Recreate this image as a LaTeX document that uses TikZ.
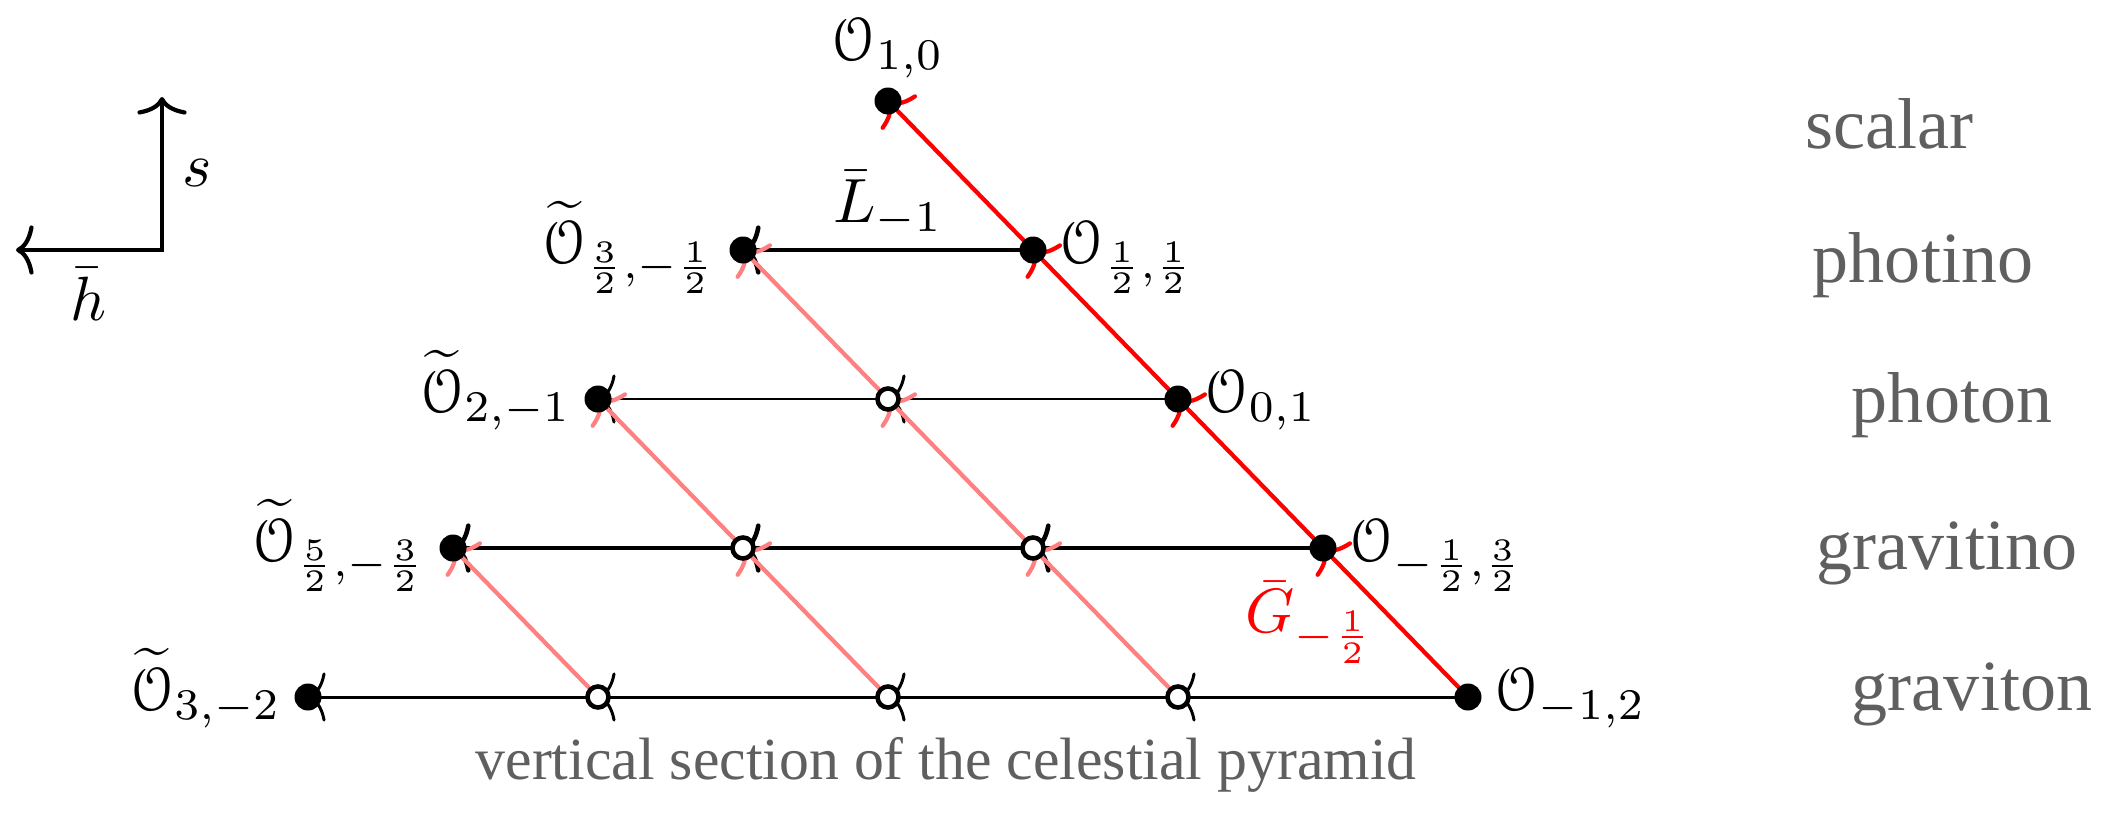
\documentclass[tikz,border=0pt]{standalone}
\usepackage{amsmath}
\usepackage{amssymb}
\usepackage[mathcal]{eucal}
\usepackage{xcolor}
\usepackage{fontspec}
\usepackage{tikz}
\usetikzlibrary{positioning, arrows.meta, backgrounds}

\newfontfamily\wordfont{Liberation Serif}
\definecolor{wordgray}{RGB}{95,95,95}
\definecolor{fermpink}{RGB}{255,128,128}

\begin{document}
\begin{tikzpicture}[
    >={To[length=5pt, width=14pt]},
    every node/.style={font=\normalsize},
    dotfull/.style={circle, fill=black, inner sep=0pt, minimum size=0.27cm},
    dothollow/.style={circle, draw=black, fill=white, line width=1.3pt, inner sep=0pt, minimum size=0.21cm},
    oplab/.style={inner sep=1pt, scale=1.78, transform shape},
    boson/.style={->, line width=0.85pt},
    fermion/.style={->, line width=1.3pt},
    gline/.style={->, red, line width=1.2pt},
    pinkline/.style={->, fermpink, line width=1.2pt},
    axisline/.style={<->, line width=1.2pt},
    word/.style={font=\wordfont\fontsize{20.5}{24}\selectfont, text=wordgray, inner sep=0pt},
    sectiontext/.style={font=\wordfont\fontsize{17}{20}\selectfont, text=wordgray, inner sep=0pt},
]
\useasboundingbox (0,0) rectangle (21.04,8.16);

% ---- Axes ----
\coordinate (corner) at (1.62,5.66);
\coordinate (stip) at (1.62,7.19);
\coordinate (htip) at (0.16,5.66);
\draw[axisline] (stip) -- node[oplab, right=0.1cm] (slab) {$s$} (corner) -- node[oplab, below=0.08cm] (hlab) {$\bar h$} (htip);

% ---- Operators ----
\node[dotfull] (sc) at (8.88,7.15) {};
\node[dotfull] (pn1) at (7.43,5.66) {};
\node[dotfull] (pn2) at (10.33,5.66) {};
\node[dotfull] (ph1) at (5.98,4.17) {};
\node[dothollow] (ph2) at (8.88,4.17) {};
\node[dotfull] (ph3) at (11.78,4.17) {};
\node[dotfull] (gi1) at (4.53,2.68) {};
\node[dothollow] (gi2) at (7.43,2.68) {};
\node[dothollow] (gi3) at (10.33,2.68) {};
\node[dotfull] (gi4) at (13.23,2.68) {};
\node[dotfull] (gt1) at (3.08,1.19) {};
\node[dothollow] (gt2) at (5.98,1.19) {};
\node[dothollow] (gt3) at (8.88,1.19) {};
\node[dothollow] (gt4) at (11.78,1.19) {};
\node[dotfull] (gt5) at (14.68,1.19) {};

% ---- Operator labels ----
\node[oplab, above=0.01cm of sc] (lsc) {$\mathcal{O}_{1,0}$};
\node[oplab, left=0.05cm of pn1, anchor=mid east] (lpn1) {$\widetilde{\mathcal{O}}_{\frac{3}{2},-\frac{1}{2}}$};
\node[oplab, right=0.05cm of pn2, anchor=mid west] (lpn2) {$\mathcal{O}_{\frac{1}{2},\frac{1}{2}}$};
\node[oplab, left=0.05cm of ph1, anchor=mid east] (lph1) {$\widetilde{\mathcal{O}}_{2,-1}$};
\node[oplab, right=0.05cm of ph3, anchor=mid west] (lph3) {$\mathcal{O}_{0,1}$};
\node[oplab, left=0.05cm of gi1, anchor=mid east] (lgi1) {$\widetilde{\mathcal{O}}_{\frac{5}{2},-\frac{3}{2}}$};
\node[oplab, right=0.05cm of gi4, anchor=mid west] (lgi4) {$\mathcal{O}_{-\frac{1}{2},\frac{3}{2}}$};
\node[oplab, left=0.05cm of gt1, anchor=mid east] (lgt1) {$\widetilde{\mathcal{O}}_{3,-2}$};
\node[oplab, right=0.05cm of gt5, anchor=mid west] (lgt5) {$\mathcal{O}_{-1,2}$};

% ---- Lines (behind the dots) ----
\begin{scope}[on background layer]
\draw[fermion] (pn2.center) -- node[oplab, midway, above=0.03cm] (lbar) {$\bar{L}_{-1}$} (pn1.center);
\draw[boson] (ph3.center) -- (ph2.center);
\draw[boson] (ph2.center) -- (ph1.center);
\draw[fermion] (gi4.center) -- (gi3.center);
\draw[fermion] (gi3.center) -- (gi2.center);
\draw[fermion] (gi2.center) -- (gi1.center);
\draw[boson] (gt5.center) -- (gt4.center);
\draw[boson] (gt4.center) -- (gt3.center);
\draw[boson] (gt3.center) -- (gt2.center);
\draw[boson] (gt2.center) -- (gt1.center);

\draw[pinkline] (gt2.center) -- (gi1.center);
\draw[pinkline] (gt3.center) -- (gi2.center);
\draw[pinkline] (gi2.center) -- (ph1.center);
\draw[pinkline] (gt4.center) -- (gi3.center);
\draw[pinkline] (gi3.center) -- (ph2.center);
\draw[pinkline] (ph2.center) -- (pn1.center);

\draw[gline] (gt5.center) -- node[oplab, midway, left=0.12cm] (lgbar) {$\bar{G}_{-\frac{1}{2}}$} (gi4.center);
\draw[gline] (gi4.center) -- (ph3.center);
\draw[gline] (ph3.center) -- (pn2.center);
\draw[gline] (pn2.center) -- (sc.center);
\end{scope}

% ---- Particle names ----
\node[word] (scalar) at (18.89,6.92) {scalar};
\node[word] (photino) at (19.23,5.51) {photino};
\node[word] (photon) at (19.52,4.11) {photon};
\node[word] (gravitino) at (19.47,2.63) {gravitino};
\node[word] (graviton) at (19.72,1.22) {graviton};

\node[sectiontext] (section) at (9.46,0.51) {vertical section of the celestial pyramid};

\end{tikzpicture}
\end{document}
